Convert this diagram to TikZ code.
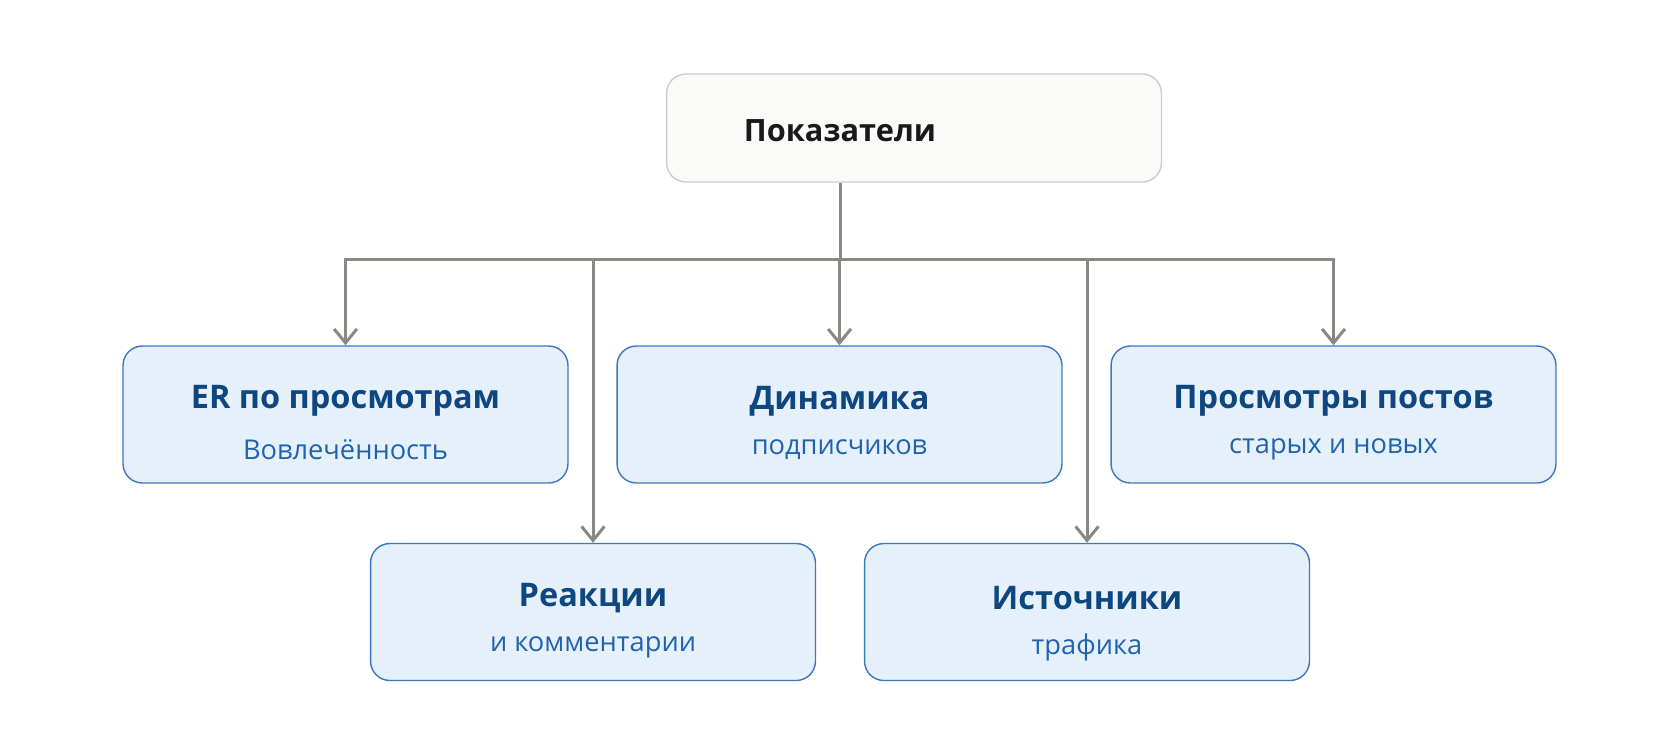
\documentclass[tikz,border=0pt]{standalone}
\usepackage{fontspec}
\setmainfont{Open Sans}
\usetikzlibrary{arrows.meta}
\usetikzlibrary{positioning}

\definecolor{boxfill}{HTML}{E6F0FB}
\definecolor{boxline}{HTML}{3C78C0}
\definecolor{titleblue}{HTML}{0E4680}
\definecolor{subblue}{HTML}{1F63AD}
\definecolor{linkgray}{HTML}{898984}
\definecolor{topfill}{HTML}{FAFAF8}
\definecolor{topline}{HTML}{CCCCCA}

\begin{document}
\begin{tikzpicture}[
    x=0.02cm, y=-0.02cm,
    metric/.style={rectangle, rounded corners=11pt, draw=boxline, line width=0.8pt,
        fill=boxfill, minimum width=8.9cm, minimum height=2.74cm, inner sep=0pt},
    head/.style={font=\fontsize{18.5}{22}\selectfont\bfseries, text=titleblue, inner sep=0pt},
    sub/.style={font=\fontsize{15.5}{19}\selectfont, text=subblue, inner sep=0pt},
    link/.style={draw=linkgray, line width=1.7pt,
        -{Straight Barb[length=8pt, width=13pt, line width=1.7pt]}},
]
\useasboundingbox (0,0) rectangle (1680,741);

% root
\node[rectangle, rounded corners=11pt, draw=topline, line width=0.8pt, fill=topfill,
    minimum width=9.9cm, minimum height=2.16cm] (root) at (914,128) {};
\node[font=\fontsize{17.5}{21}\selectfont\bfseries, text=black!90, inner sep=0pt]
    (root-t) at (840,131) {Показатели};

% metric boxes
\foreach \name/\x/\y/\head/\sub in {
    er/345.5/414.5/ER по просмотрам/Вовлечённость,
    dyn/839.5/414.5/Динамика/подписчиков,
    views/1333.5/414.5/Просмотры постов/старых и новых,
    react/593/612/Реакции/и комментарии,
    src/1087/612/Источники/трафика} {
    \node[metric] (\name) at (\x,\y) {};
    \node[head] (\name-t) at ([yshift=0.27cm]\name.center) {\head};
    \node[sub] (\name-s) at ([yshift=-0.70cm]\name.center) {\sub};
}

% connectors
\coordinate (bus) at (840,259);
\draw[draw=linkgray, line width=1.7pt] (root.south -| bus) -- (bus);
\foreach \name in {er,react,dyn,src,views} {
    \draw[link] (bus) -| (\name.north);
}
\end{tikzpicture}
\end{document}
